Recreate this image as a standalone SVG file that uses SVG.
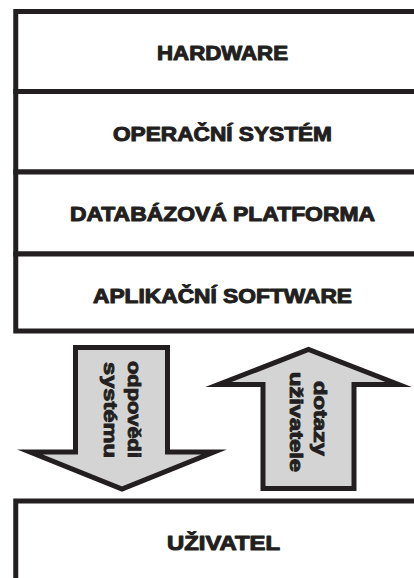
<svg xmlns="http://www.w3.org/2000/svg" width="414" height="578" viewBox="0 0 414 578">
<style>
.box{fill:#fff;stroke:#231f20;stroke-width:5}
.lbl{font-family:"Liberation Sans",Arial,sans-serif;font-weight:bold;font-size:19.5px;fill:#231f20;stroke:#231f20;stroke-width:1;stroke-linejoin:round}
.arr{fill:#d4d4d4;stroke:#231f20;stroke-width:5;stroke-linejoin:miter;stroke-miterlimit:30}
.at{font-family:"Liberation Sans",Arial,sans-serif;font-weight:bold;font-size:18px;fill:#231f20;stroke:#231f20;stroke-width:0.9;stroke-linejoin:round}
</style>
<rect width="414" height="578" fill="#fff"/>
<g id="hardware">
<rect class="box" x="15.75" y="11.5" width="420" height="80"/>
<text class="lbl" x="157" y="60" textLength="131" lengthAdjust="spacingAndGlyphs">HARDWARE</text>
</g>
<g id="operacni-system">
<rect class="box" x="15.75" y="91.5" width="420" height="80.5"/>
<text class="lbl" x="113" y="140.7" textLength="219" lengthAdjust="spacingAndGlyphs">OPERAČNÍ SYSTÉM</text>
</g>
<g id="databazova-platforma">
<rect class="box" x="15.75" y="172" width="420" height="82"/>
<text class="lbl" x="70" y="220.7" textLength="305" lengthAdjust="spacingAndGlyphs">DATABÁZOVÁ PLATFORMA</text>
</g>
<g id="aplikacni-software">
<rect class="box" x="15.75" y="254" width="420" height="77"/>
<text class="lbl" x="93" y="302.7" textLength="259" lengthAdjust="spacingAndGlyphs">APLIKAČNÍ SOFTWARE</text>
</g>
<g id="uzivatel">
<rect class="box" x="15.75" y="501" width="420" height="100"/>
<text class="lbl" x="167" y="550" textLength="113" lengthAdjust="spacingAndGlyphs">UŽIVATEL</text>
</g>
<g id="connectors">
<g id="odpovedi-systemu">
<polygon class="arr" points="75.5,347.5 167.5,347.5 167.5,452 214,452 122,489 30,452 75.5,452"/>
<text class="at" transform="translate(127.5,361) rotate(90)" textLength="97" lengthAdjust="spacingAndGlyphs">odpovědi</text>
<text class="at" transform="translate(103.5,362) rotate(90)" textLength="96" lengthAdjust="spacingAndGlyphs">systému</text>
</g>
<g id="dotazy-uzivatele">
<polygon class="arr" points="263,488.5 263,384.5 218.5,384.5 308.5,349.5 398.5,384.5 354,384.5 354,488.5"/>
<text class="at" transform="translate(314,381) rotate(90)" textLength="75" lengthAdjust="spacingAndGlyphs">dotazy</text>
<text class="at" transform="translate(290,372) rotate(90)" textLength="100" lengthAdjust="spacingAndGlyphs">uživatele</text>
</g>
</g>
</svg>
